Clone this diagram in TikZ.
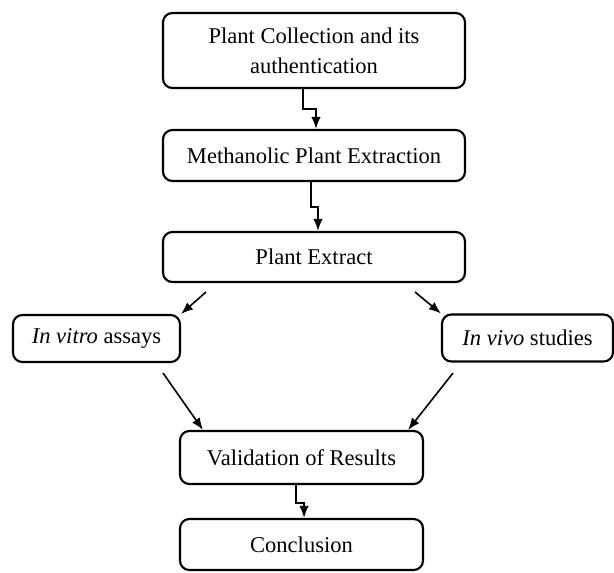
\documentclass[tikz,border=0pt]{standalone}
\usepackage{fontspec}
\setmainfont{Liberation Serif}
\usetikzlibrary{arrows.meta}

\tikzset{
	stepbox/.style={draw, line width=1.6pt, rounded corners=7pt, align=center,
		inner sep=0pt, font=\fontsize{16.9}{22.5}\selectfont},
	arr/.style={line width=1.2pt, -{Latex[length=9pt,width=7pt]}}
}

\begin{document}
\begin{tikzpicture}[x=0.75pt, y=-0.75pt]
		\useasboundingbox (0,0) rectangle (614,572);

		% Main column
		\node[stepbox, minimum width=302*0.75pt, minimum height=75*0.75pt] (coll) at (314,50.5) {Plant Collection and its\\authentication};
		\node[stepbox, minimum width=302*0.75pt, minimum height=51*0.75pt] (meth) at (314,155.5) {Methanolic Plant Extraction};
		\node[stepbox, minimum width=302*0.75pt, minimum height=50*0.75pt] (extr) at (314,257) {Plant Extract};

		% Side boxes
		\node[stepbox, minimum width=167*0.75pt, minimum height=47*0.75pt] (vitro) at (96.5,338.5) {\textit{In vitro} assays};
		\node[stepbox, minimum width=171*0.75pt, minimum height=47*0.75pt] (vivo) at (527.5,338) {\textit{In vivo} studies};

		% Bottom
		\node[stepbox, minimum width=243*0.75pt, minimum height=53*0.75pt] (valid) at (301.5,457.5) {Validation of Results};
		\node[stepbox, minimum width=243*0.75pt, minimum height=51*0.75pt] (concl) at (301.5,544.5) {Conclusion};

		% Elbow arrows
		\draw[arr] ([xshift=-8.25pt]coll.south) -- ++(0,20) -| ([xshift=1.5pt]meth.north);
		\draw[arr] ([xshift=-2.25pt]meth.south) -- ++(0,25) -| ([xshift=3pt]extr.north);
		\draw[arr] ([xshift=-4.1pt]valid.south) -- ++(0,18) -| ([xshift=1.9pt]concl.north);

		% Diagonal arrows
		\coordinate (e1) at (206,292);
		\coordinate (e2) at (415,292);
		\coordinate (v1) at (163,373);
		\coordinate (v2) at (453,373);
		\draw[arr] (e1) -- (vitro.north east);
		\draw[arr] (e2) -- (vivo.north west);
		\draw[arr] (v1) -- ([xshift=18pt]valid.north west);
		\draw[arr] (v2) -- ([xshift=-12pt]valid.north east);
	\end{tikzpicture}
\end{document}
